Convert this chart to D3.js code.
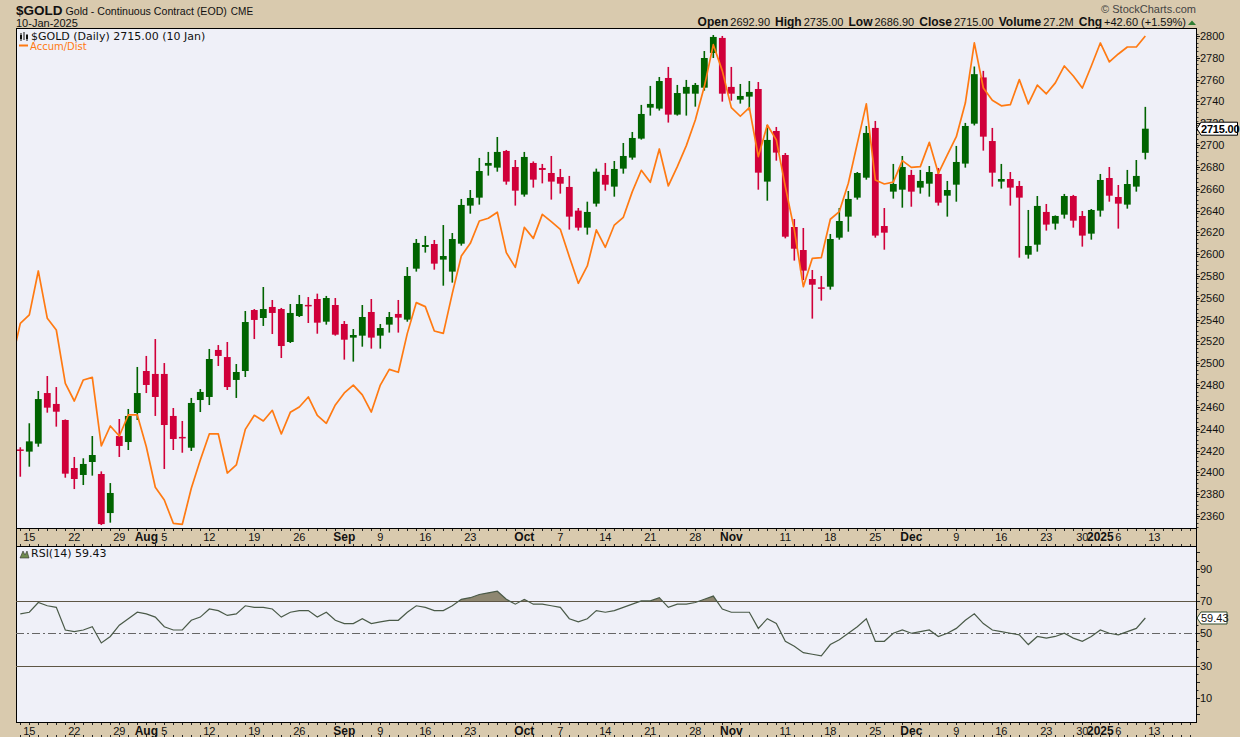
<!DOCTYPE html>
<html><head><meta charset="utf-8">
<script src="https://cdn.jsdelivr.net/npm/d3@7/dist/d3.min.js"></script>
<style>body{margin:0;background:#d9caae;}svg{display:block}</style>
</head><body>
<svg id="c" width="1240" height="737"></svg>
<script>
// ---- DATA (trading-day index 0 = 12 Jul 2024 ... 125 = 10 Jan 2025) ----
const opens=[2421,2419,2426.3,2472.7,2462.7,2448,2404,2397.6,2409.5,2398.5,2362.7,2433.3,2427.8,2454.4,2492.9,2490.2,2490.2,2451.7,2432.5,2422.6,2466.3,2469.1,2512.2,2505.7,2484.7,2492.9,2548.8,2541.5,2551.6,2549.7,2519.5,2543.3,2553.5,2558.9,2538.1,2553.4,2536,2523.5,2525.3,2547,2525.3,2535.4,2545.2,2540,2586.7,2606.6,2609.3,2595,2584,2609.6,2644.5,2651.8,2681.1,2679.3,2694.6,2679.9,2654.6,2683.6,2679,2674.4,2670.7,2661.6,2639.9,2624.3,2646.3,2672.6,2661.9,2678.4,2688.5,2705.9,2734.3,2733.4,2761.5,2727.9,2747.1,2747.1,2752.6,2784.4,2798.2,2753.3,2741.6,2744.4,2751.4,2666.5,2712.9,2690.9,2624.9,2603.8,2577.2,2569.6,2570.2,2615.1,2634.4,2651.8,2670.1,2715.7,2625.8,2657.3,2659.1,2672.6,2661,2664.6,2673.5,2653.6,2663.7,2683,2719.6,2762,2703.7,2666.5,2668.9,2662.5,2599.5,2608.7,2638.7,2628,2636.2,2653.3,2635,2618.8,2639.9,2669.8,2652.4,2645.4,2661.9,2692.9];
const highs=[2423,2445,2474.6,2488.3,2478.2,2448.5,2414.1,2412.9,2433.3,2400.9,2390.2,2448.9,2458.1,2496.6,2506.7,2522.2,2500.2,2459,2447.1,2468.2,2476.4,2513.1,2516.7,2519.5,2499.3,2547.9,2549.7,2569.9,2558,2550.7,2554.3,2562.6,2560.7,2563.8,2561.7,2559.8,2538.7,2531.4,2553.4,2558.9,2536,2547,2558,2588.2,2613.9,2616.7,2613,2626.7,2619.4,2650.6,2658.8,2688.2,2693.7,2707.4,2695.5,2686.3,2693.7,2685,2682.7,2690,2678.1,2671.7,2642.3,2648.1,2678.4,2683.6,2685.4,2701.9,2712,2736.8,2754.2,2762.4,2771.6,2755.1,2759.7,2756.9,2786.2,2800.9,2800,2771.6,2756,2758.7,2757.8,2718.4,2716.6,2692.7,2632.2,2624,2585.5,2580,2618.5,2642.3,2657.9,2675.3,2717.5,2722.1,2642.3,2682.7,2690,2677.2,2677.2,2680.8,2679,2667.1,2699.2,2720.3,2772,2768,2715.7,2682.7,2675.3,2667.1,2640.5,2653.3,2646,2635.5,2655.2,2654.3,2639.6,2641.4,2673.5,2679.9,2663.4,2677.2,2686.3,2735];
const lows=[2396,2405.2,2423.5,2454.7,2441.9,2395.1,2384.7,2388.4,2397,2351.7,2353.9,2414.1,2420.5,2448,2472.7,2451.7,2403.1,2420.5,2418,2419.6,2455.3,2461.7,2497.5,2475.5,2468.2,2487.4,2522.2,2534.2,2526.8,2504.8,2518.6,2542.4,2536.9,2527.1,2535.4,2525.3,2503.3,2501.5,2515.2,2513.4,2513.4,2528.1,2528.1,2538.1,2584,2601.4,2585.8,2571.1,2573.9,2607.8,2637.1,2645.4,2672,2675.6,2663.7,2644.5,2652.7,2661,2664.9,2650,2655.5,2622.5,2621.6,2617.9,2643.6,2658.2,2652.7,2673.8,2686.6,2705,2727,2731.6,2720.6,2727,2727,2735.2,2749.9,2779.8,2739.8,2740.7,2738,2731.6,2659.1,2649,2685.7,2614.5,2594.1,2576.3,2540.9,2557.4,2567.5,2613.3,2620.6,2650,2668.3,2615.1,2604.1,2650.9,2642.6,2643.5,2655.5,2652.7,2644.5,2634.4,2648.1,2679.3,2718,2694.9,2661.9,2660.1,2644.5,2596.8,2595.9,2602.3,2621.6,2622.5,2632.6,2624.3,2606.9,2613.3,2634.4,2648.1,2623.4,2641.7,2657.3,2686.9];
const closes=[2420,2428.4,2467.2,2459.3,2455.6,2398.8,2393.9,2407.7,2415.9,2352.6,2381.1,2424.2,2451.7,2472.7,2480.1,2469.1,2443.4,2430.6,2431.8,2463.6,2473.7,2503.9,2506.7,2478.2,2492,2537.8,2539.7,2549.7,2546.1,2515.8,2546.1,2554.3,2552.4,2537.2,2559.8,2526.2,2521.6,2525.9,2542.4,2523.5,2532.3,2542.4,2541.8,2580,2610.3,2608.4,2591.3,2598.3,2613.9,2645.1,2651.5,2676.2,2683.6,2693.7,2666.5,2658.2,2689.1,2668.3,2677.2,2666.5,2664.6,2634.4,2624.3,2638.7,2675.6,2663.7,2678.1,2690,2706.5,2728.5,2737.7,2758.7,2727.9,2747.7,2753.3,2755.1,2779.8,2799.1,2747.1,2747.1,2745,2748.7,2674.7,2704.7,2693.1,2616,2605,2584.9,2572,2569,2613.9,2630.4,2650.6,2674.4,2711.1,2617,2619.7,2664.3,2679.9,2657.3,2667.1,2675.3,2647.2,2658.8,2684.5,2717.5,2765,2707.7,2674.7,2668.9,2661,2651.8,2607.5,2644.2,2627.1,2635,2653.3,2630.7,2617,2640.5,2668,2653.6,2646.3,2664.3,2671.7,2715];
// Accumulation/Distribution (own hidden scale), starts at index -1
const adStart=-1;
const accumDist=[2500,2536.6,2544.3,2584.6,2541.2,2530.5,2481.6,2465.4,2484.7,2487.1,2424.2,2442.5,2433.3,2452.6,2452.6,2423.5,2386.3,2374.7,2353.3,2352.4,2385.4,2411.3,2435.2,2435.2,2399.4,2406.8,2439.4,2452.3,2447.1,2456.9,2435.2,2455,2459.9,2469.1,2452.3,2445,2461.8,2472.8,2480,2471,2455.3,2480,2494.4,2491.7,2527.4,2555.6,2551.9,2529.6,2527.4,2564.1,2598.3,2609.9,2630.4,2632.9,2638.4,2601.4,2587.9,2624.6,2614.5,2636.5,2629.8,2622.8,2597.7,2573.3,2589.2,2622.2,2606.3,2626.7,2633.8,2657.3,2676.9,2665.9,2696.4,2662.5,2680.2,2699.5,2723,2753.6,2792,2768,2734.3,2726.4,2734.3,2689.4,2718.4,2704.7,2661.9,2622.2,2570.2,2596.2,2596.8,2632,2639,2665,2701.6,2737.7,2668,2664.3,2666,2685.7,2679.6,2680.2,2702.5,2674.1,2690.9,2707.7,2738.5,2793.6,2752.3,2741,2736,2737,2760,2737.7,2755,2747,2757,2772.5,2763.3,2752.3,2772.5,2793.6,2776.2,2783.5,2789.9,2789.9,2800];
const rsi=[62,63,69,67,66,52,51,52,54,44,48,55,59,63,62,60,54,52,52,58,60,65,64,61,62,67,66,66,65,60,63,64,64,60,63,58,56,56,59,56,57,58,58,63,67,66,64,64,67,71,72,74,75,76,71,68,71,68,68,67,66,59,57,59,64,63,64,66,68,70,70,72,66,68,68,69,71,73,65,63,63,63,53,59,56,45,42,38,37,36,43,46,50,54,59,45,45,50,52,50,51,52,48,50,53,58,62,56,52,51,50,49,43,48,47,48,50,47,45,48,52,50,49,51,53,59.43];
const xTickIdx=[1,6,11,14,16,21,26,31,36,40,45,50,56,60,65,70,75,79,85,90,95,99,104,109,114,118,120,122,126];
const xTickLabels=["15","22","29","Aug","5","12","19","26","Sep","9","16","23","Oct","7","14","21","28","Nov","11","18","25","Dec","9","16","23","30","2025","6","13"];
const boldLabels=["Aug","Sep","Oct","Nov","Dec","2025"];
const priceTicks=d3.range(2360,2801,20);
const rsiTicks=[10,30,50,70,90];
const headerItems=[["Open","2692.90"],["High","2735.00"],["Low","2686.90"],["Close","2715.00"],["Volume","27.2M"],["Chg","+42.60 (+1.59%)"]];
const lastPrice=2715.00, lastRsi=59.43;

// ---- LAYOUT ----
const W=1240,H=737,L=16,R=1196,mainT=28,mainB=528,rsiT=546,rsiB=722;
const BG='#d9caae',PBG='#eff0f8',UP='#006400',DN='#d0003a',AD='#ff7a12';
const FONT='Liberation Sans, Arial, sans-serif';
const svg=d3.select('#c');
svg.append('rect').attr('width',W).attr('height',H).attr('fill',BG);
svg.append('rect').attr('x',L).attr('y',mainT).attr('width',R-L).attr('height',mainB-mainT).attr('fill',PBG);
svg.append('rect').attr('x',L).attr('y',rsiT).attr('width',R-L).attr('height',rsiB-rsiT).attr('fill',PBG);

const x=d3.scaleLinear().domain([-0.478,130.63]).range([L,R]);
const y=d3.scaleLinear().domain([2349,2807.3]).range([mainB,mainT]);
const yAD=d3.scaleLinear().domain([2349,2807.3]).range([mainB,mainT]);
const yR=d3.scaleLinear().domain([-4.95,104]).range([rsiB,rsiT]);

const defs=svg.append('defs');
defs.append('clipPath').attr('id','cm').append('rect').attr('x',L).attr('y',mainT).attr('width',R-L).attr('height',mainB-mainT);
defs.append('clipPath').attr('id','cr').append('rect').attr('x',L).attr('y',rsiT).attr('width',R-L).attr('height',rsiB-rsiT);
defs.append('clipPath').attr('id','c70').append('rect').attr('x',L).attr('y',rsiT).attr('width',R-L).attr('height',yR(70)-rsiT);

// ---- candles ----
const gm=svg.append('g').attr('clip-path','url(#cm)');
const idx=d3.range(closes.length);
gm.selectAll('rect.w').data(idx).join('rect').attr('class','w')
  .attr('x',i=>x(i)-0.8).attr('width',1.6)
  .attr('y',i=>y(highs[i])).attr('height',i=>Math.max(1,y(lows[i])-y(highs[i])))
  .attr('fill',i=>closes[i]>=opens[i]?UP:DN);
gm.selectAll('rect.b').data(idx).join('rect').attr('class','b')
  .attr('x',i=>x(i)-3.4).attr('width',6.8)
  .attr('y',i=>y(Math.max(opens[i],closes[i])))
  .attr('height',i=>Math.max(1.5,Math.abs(y(opens[i])-y(closes[i]))))
  .attr('fill',i=>closes[i]>=opens[i]?UP:DN);
// A/D line
gm.append('path').datum(accumDist).attr('fill','none').attr('stroke',AD).attr('stroke-width',1.7)
  .attr('stroke-linejoin','round')
  .attr('d',d3.line().x((d,k)=>x(k+adStart)).y(d=>yAD(d)));

// ---- borders ----
svg.append('line').attr('x1',L+0.5).attr('x2',L+0.5).attr('y1',mainT).attr('y2',rsiB).attr('stroke','#000');
svg.append('line').attr('x1',R+0.5).attr('x2',R+0.5).attr('y1',mainT).attr('y2',rsiB).attr('stroke','#000');
[mainT,mainB,rsiT,rsiB].forEach(v=>svg.append('line').attr('x1',L).attr('x2',R+1).attr('y1',v+0.5).attr('y2',v+0.5).attr('stroke','#000'));

// price axis
const ga=svg.append('g').attr('font-family',FONT).attr('font-size',11).attr('fill','#111');
d3.range(2350,2806,4).forEach(v=>{ga.append('line').attr('x1',R+1).attr('x2',R+2.5).attr('y1',Math.round(y(v))+0.5).attr('y2',Math.round(y(v))+0.5).attr('stroke','#333');});
priceTicks.forEach(v=>{
  ga.append('line').attr('x1',R+1).attr('x2',R+4).attr('y1',Math.round(y(v))+0.5).attr('y2',Math.round(y(v))+0.5).attr('stroke','#111');
  ga.append('text').attr('x',R+4).attr('y',y(v)+4).text(v);
});
// price tag
{const ty=y(lastPrice);
 svg.append('path').attr('d',`M${R+1},${ty} L${R+5},${ty-6.5} H${W-2.5} V${ty+6.5} H${R+5} Z`).attr('fill','#fff').attr('stroke','#000');
 svg.append('text').attr('x',R+5).attr('y',ty+4).attr('font-family',FONT).attr('font-weight','bold').attr('font-size',11).attr('letter-spacing',-0.2).text(lastPrice.toFixed(2));}

// ---- RSI ----
const gr=svg.append('g').attr('clip-path','url(#cr)');
const rl=d3.line().x((d,i)=>x(i)).y(d=>yR(d));
gr.append('path').datum(rsi).attr('clip-path','url(#c70)').attr('fill','#8e8771').attr('stroke','none')
  .attr('d',d3.area().x((d,i)=>x(i)).y0(yR(70)).y1(d=>yR(d)));
[70,30].forEach(v=>gr.append('line').attr('x1',L).attr('x2',R).attr('y1',Math.round(yR(v))+0.5).attr('y2',Math.round(yR(v))+0.5).attr('stroke','#5e5645').attr('stroke-width',1));
gr.append('line').attr('x1',L).attr('x2',R).attr('y1',Math.round(yR(50))+0.5).attr('y2',Math.round(yR(50))+0.5).attr('stroke','#666').attr('stroke-dasharray','8,3,2,3');
gr.append('path').datum(rsi).attr('fill','none').attr('stroke','#4a5a48').attr('stroke-width',1.2).attr('d',rl);
d3.range(0,101,5).forEach(v=>{ga.append('line').attr('x1',R+1).attr('x2',R+(v%10===0?4:2.5)).attr('y1',Math.round(yR(v))+0.5).attr('y2',Math.round(yR(v))+0.5).attr('stroke','#222');});
rsiTicks.forEach(v=>ga.append('text').attr('x',R+4).attr('y',yR(v)+4).text(v));
{const ty=yR(lastRsi);
 svg.append('path').attr('d',`M${R+1},${ty} L${R+5},${ty-6} H${R+31} V${ty+6} H${R+5} Z`).attr('fill','#fff').attr('stroke','#2f4a2f');
 svg.append('text').attr('x',R+5).attr('y',ty+4).attr('font-family',FONT).attr('font-size',11).attr('fill','#111').text(lastRsi.toFixed(2));}

// ---- date bands ----
function band(top,bot,ly){
  const g=svg.append('g');
  d3.range(0,131).forEach(i=>{
    const xx=Math.round(x(i))+0.5;
    g.append('line').attr('x1',xx).attr('x2',xx).attr('y1',top).attr('y2',top+2).attr('stroke','#222');
    g.append('line').attr('x1',xx).attr('x2',xx).attr('y1',bot-2).attr('y2',bot).attr('stroke','#222');
  });
  xTickIdx.forEach((i,k)=>{
    const lab=xTickLabels[k];
    g.append('text').attr('x',x(i)).attr('y',ly).attr('text-anchor','middle')
     .attr('font-family',FONT).attr('font-size',boldLabels.includes(lab)?12:11)
     .attr('font-weight',boldLabels.includes(lab)?'bold':'normal').attr('fill','#111').text(lab);
  });
}
band(mainB+1,rsiT,541);
band(rsiB+1,H,735);

// ---- titles ----
const t1=svg.append('text').attr('x',L).attr('y',15).attr('font-family',FONT).attr('font-weight','bold').attr('font-size',13.5).attr('fill','#111').text('$GOLD');
const t2=svg.append('text').attr('y',15).attr('font-family',FONT).attr('font-size',10.6).attr('fill','#111').text('Gold - Continuous Contract (EOD)');
const t3=svg.append('text').attr('y',15).attr('font-family',FONT).attr('font-size',10).attr('fill','#111').text('CME');
const x2=L+t1.node().getComputedTextLength()+3;
t2.attr('x',x2);
t3.attr('x',x2+t2.node().getComputedTextLength()+4);
svg.append('text').attr('x',L).attr('y',27).attr('font-family',FONT).attr('font-size',11).attr('fill','#111').text('10-Jan-2025');
svg.append('text').attr('x',R).attr('y',13).attr('text-anchor','end').attr('font-family',FONT).attr('font-size',11).attr('fill','#444').text('\u00A9 StockCharts.com');
const hd=svg.append('text').attr('x',1186).attr('y',26).attr('text-anchor','end').attr('font-family',FONT).attr('fill','#111');
headerItems.forEach(([k,v],j)=>{
  hd.append('tspan').attr('font-weight','bold').attr('font-size',12).attr('dx',j?5:0).text(k);
  hd.append('tspan').attr('font-size',11).attr('dx',2).text(v);
});
svg.append('path').attr('d','M1188,25 L1192,20.5 L1196,25 Z').attr('fill','#2e7d32');

// legends
const lg=svg.append('g').attr('font-family','DejaVu Sans, Verdana, sans-serif').attr('font-size',11);
lg.append('path').attr('d','M21,33 V41 M24,32 V40 M27,34 V41').attr('stroke','#111').attr('stroke-width',1);
lg.append('rect').attr('x',20).attr('y',35).attr('width',2).attr('height',4).attr('fill','#111');
lg.append('rect').attr('x',26).attr('y',35).attr('width',2).attr('height',4).attr('fill','#111');
lg.append('text').attr('x',31).attr('y',40).attr('fill','#111').text('$GOLD (Daily) 2715.00 (10 Jan)');
lg.append('line').attr('x1',19).attr('x2',28).attr('y1',45.5).attr('y2',45.5).attr('stroke',AD).attr('stroke-width',2);
lg.append('text').attr('x',30).attr('y',50).attr('fill',AD).attr('font-size',10).text('Accum/Dist');
lg.append('path').attr('d','M20,558 L23,551 L25,555 L27,551 L29,558 Z').attr('fill','#6f8a4f').attr('stroke','#333').attr('stroke-width',0.6);
lg.append('text').attr('x',31).attr('y',557).attr('fill','#111').text('RSI(14) 59.43');
</script>
</body></html>
